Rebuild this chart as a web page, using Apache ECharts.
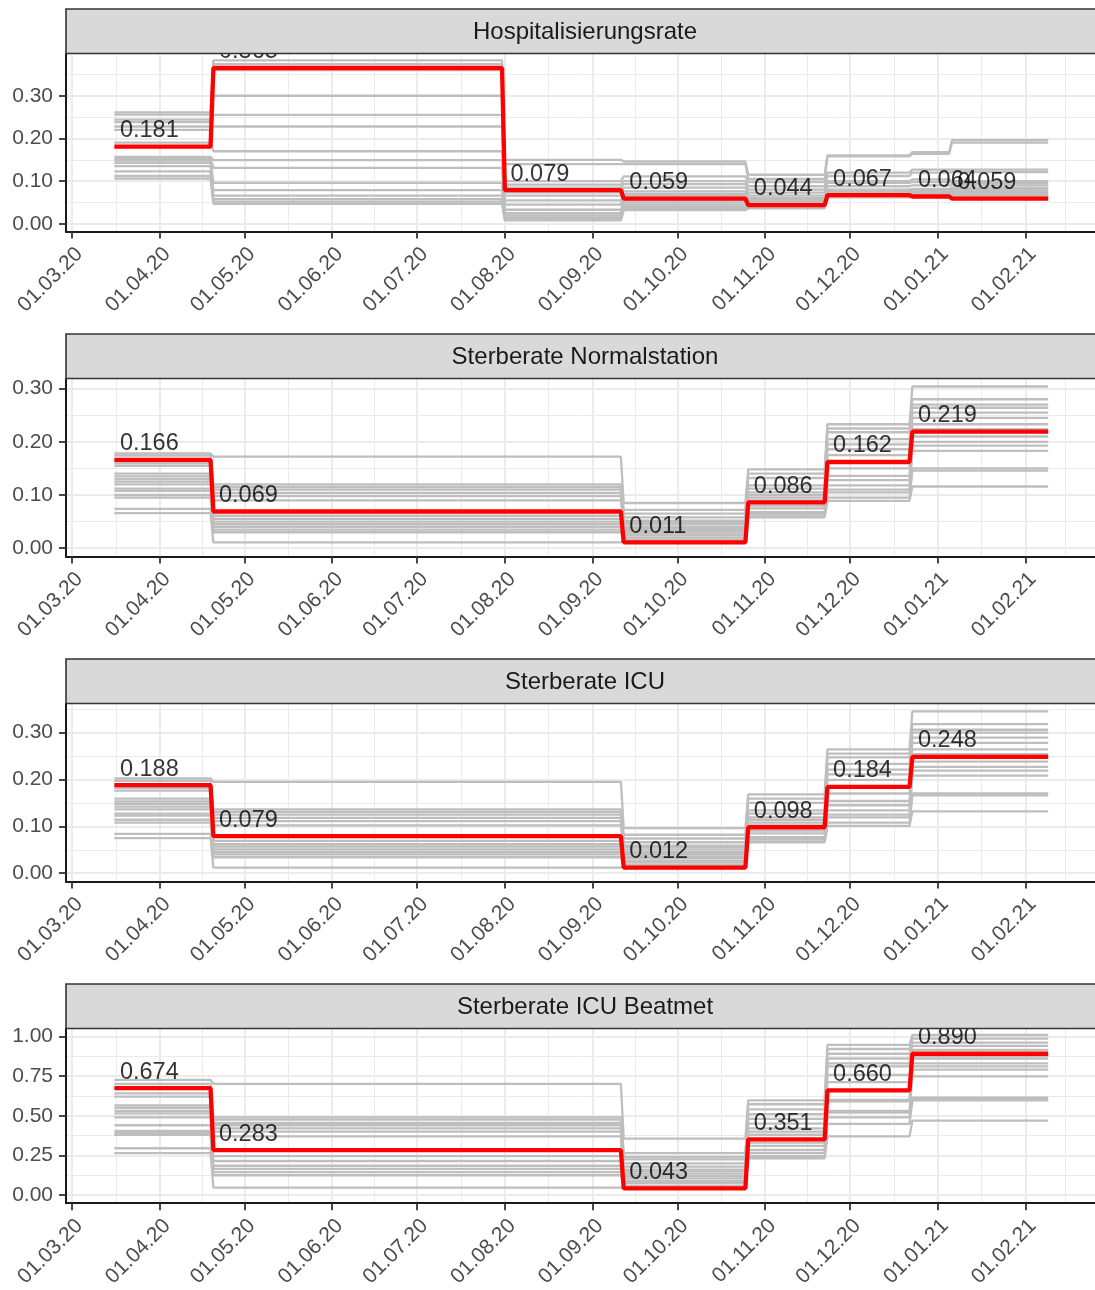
<!DOCTYPE html>
<html>
<head>
<meta charset="utf-8">
<script src="https://cdn.jsdelivr.net/npm/echarts@6.0.0/dist/echarts.min.js"></script>
<style>
html,body{margin:0;padding:0;background:#ffffff;}
#chart{width:1095px;height:1290px;}
</style>
</head>
<body>
<div id="chart"></div>
<script>
// ---------------- data ----------------
const facetTitles = ['Hospitalisierungsrate', 'Sterberate Normalstation', 'Sterberate ICU', 'Sterberate ICU Beatmet'];

// first day of each constant period
const startsHosp  = ['2020-03-16', '2020-04-20', '2020-08-01', '2020-09-12', '2020-10-26', '2020-11-23', '2020-12-23', '2021-01-06'];
const startsDeath = ['2020-03-16', '2020-04-20', '2020-09-12', '2020-10-26', '2020-11-23', '2020-12-23'];
const lastDate = '2021-02-09';

// highlighted (red) estimate per period
const redHosp   = [0.181, 0.365, 0.079, 0.059, 0.044, 0.067, 0.064, 0.059];
const redNormal = [0.166, 0.069, 0.011, 0.086, 0.162, 0.219];
const redICU    = [0.188, 0.079, 0.012, 0.098, 0.184, 0.248];
const redVent   = [0.674, 0.283, 0.043, 0.351, 0.660, 0.890];

// grey ensemble: one list per period, one entry per grey line
const grayHosp = [
  [0.261, 0.256, 0.244, 0.238, 0.228, 0.220, 0.190, 0.157, 0.152, 0.148, 0.143, 0.135, 0.123, 0.112, 0.106],
  [0.383, 0.374, 0.360, 0.300, 0.255, 0.228, 0.170, 0.149, 0.131, 0.096, 0.079, 0.066, 0.058, 0.052, 0.047],
  [0.150, 0.140, 0.100, 0.092, 0.085, 0.074, 0.066, 0.055, 0.045, 0.033, 0.025, 0.020, 0.015, 0.011, 0.008],
  [0.146, 0.140, 0.111, 0.100, 0.093, 0.085, 0.076, 0.070, 0.065, 0.055, 0.050, 0.045, 0.040, 0.035, 0.032],
  [0.115, 0.105, 0.098, 0.088, 0.080, 0.073, 0.066, 0.060, 0.056, 0.052, 0.048, 0.046, 0.044, 0.040, 0.036],
  [0.160, 0.158, 0.120, 0.112, 0.100, 0.096, 0.088, 0.080, 0.076, 0.072, 0.070, 0.068, 0.066, 0.064, 0.062],
  [0.168, 0.164, 0.127, 0.120, 0.104, 0.098, 0.090, 0.082, 0.078, 0.074, 0.072, 0.070, 0.068, 0.066, 0.064],
  [0.196, 0.190, 0.127, 0.121, 0.100, 0.095, 0.090, 0.084, 0.080, 0.076, 0.072, 0.068, 0.065, 0.062, 0.060]
];
const grayNormal = [
  [0.178, 0.174, 0.160, 0.155, 0.140, 0.135, 0.130, 0.125, 0.120, 0.112, 0.108, 0.100, 0.095, 0.074, 0.066],
  [0.172, 0.120, 0.115, 0.110, 0.104, 0.098, 0.090, 0.061, 0.055, 0.050, 0.045, 0.040, 0.035, 0.030, 0.011],
  [0.085, 0.072, 0.065, 0.058, 0.052, 0.049, 0.045, 0.040, 0.036, 0.032, 0.028, 0.024, 0.020, 0.016, 0.013],
  [0.148, 0.140, 0.132, 0.118, 0.112, 0.105, 0.100, 0.095, 0.090, 0.080, 0.075, 0.068, 0.064, 0.060, 0.058],
  [0.233, 0.225, 0.218, 0.205, 0.195, 0.186, 0.175, 0.150, 0.136, 0.128, 0.118, 0.110, 0.105, 0.095, 0.089],
  [0.304, 0.280, 0.270, 0.264, 0.255, 0.245, 0.233, 0.224, 0.210, 0.200, 0.193, 0.183, 0.150, 0.146, 0.116]
];
const grayICU = [
  [0.202, 0.197, 0.182, 0.176, 0.159, 0.153, 0.148, 0.142, 0.136, 0.127, 0.123, 0.114, 0.108, 0.084, 0.075],
  [0.195, 0.136, 0.131, 0.125, 0.118, 0.111, 0.102, 0.069, 0.062, 0.057, 0.051, 0.045, 0.040, 0.034, 0.012],
  [0.096, 0.082, 0.074, 0.066, 0.059, 0.056, 0.051, 0.045, 0.041, 0.036, 0.032, 0.027, 0.023, 0.018, 0.015],
  [0.168, 0.159, 0.150, 0.134, 0.127, 0.119, 0.114, 0.108, 0.102, 0.091, 0.085, 0.077, 0.073, 0.068, 0.066],
  [0.264, 0.255, 0.247, 0.233, 0.221, 0.211, 0.199, 0.170, 0.154, 0.145, 0.134, 0.125, 0.119, 0.108, 0.101],
  [0.345, 0.318, 0.306, 0.300, 0.289, 0.278, 0.264, 0.254, 0.238, 0.227, 0.219, 0.208, 0.170, 0.166, 0.132]
];
const grayVent = [
  [0.726, 0.700, 0.640, 0.620, 0.565, 0.550, 0.530, 0.515, 0.490, 0.440, 0.405, 0.390, 0.380, 0.295, 0.265],
  [0.700, 0.490, 0.475, 0.455, 0.440, 0.420, 0.400, 0.370, 0.245, 0.215, 0.185, 0.165, 0.145, 0.125, 0.047],
  [0.356, 0.265, 0.240, 0.225, 0.200, 0.180, 0.160, 0.150, 0.135, 0.120, 0.105, 0.090, 0.078, 0.060, 0.047],
  [0.597, 0.572, 0.540, 0.510, 0.480, 0.450, 0.420, 0.400, 0.380, 0.330, 0.310, 0.284, 0.265, 0.245, 0.232],
  [0.946, 0.920, 0.890, 0.860, 0.830, 0.810, 0.757, 0.712, 0.600, 0.590, 0.530, 0.520, 0.490, 0.449, 0.370],
  [1.008, 0.985, 0.960, 0.940, 0.915, 0.875, 0.860, 0.830, 0.810, 0.790, 0.747, 0.613, 0.600, 0.597, 0.469]
];

// axis ticks
const xMajorTicks = ['2020-03-01', '2020-04-01', '2020-05-01', '2020-06-01', '2020-07-01', '2020-08-01',
                     '2020-09-01', '2020-10-01', '2020-11-01', '2020-12-01', '2021-01-01', '2021-02-01'];
const xMinorTicks = ['2020-03-16T12:00:00Z', '2020-04-16T00:00:00Z', '2020-05-16T12:00:00Z', '2020-06-16T00:00:00Z',
                     '2020-07-16T12:00:00Z', '2020-08-16T12:00:00Z', '2020-09-16T00:00:00Z', '2020-10-16T12:00:00Z',
                     '2020-11-16T00:00:00Z', '2020-12-16T12:00:00Z', '2021-01-16T12:00:00Z', '2021-02-15T00:00:00Z'];
const xRange = ['2020-02-27T22:00:00Z', '2021-02-25T13:00:00Z'];
const yTicksRate = [0, 0.1, 0.2, 0.3];
const yMinorRate = [0.05, 0.15, 0.25, 0.35];
const yTicksVent = [0, 0.25, 0.5, 0.75, 1.0];
const yMinorVent = [0.125, 0.375, 0.625, 0.875];
const yRanges = [[-0.018, 0.399], [-0.0156, 0.319], [-0.0177, 0.362], [-0.051, 1.049]];

// ---------------- build ----------------
const FONT = '"Liberation Sans", Arial, Helvetica, sans-serif';
const DAY = 86400000;
const ts = s => Date.parse(s.length === 10 ? s + 'T00:00:00Z' : s);
const pad = n => (n < 10 ? '0' : '') + n;
const fmtDate = v => { const d = new Date(v); return pad(d.getUTCDate()) + '.' + pad(d.getUTCMonth() + 1) + '.' + String(d.getUTCFullYear()).slice(2); };

const panels = [
  { title: facetTitles[0], starts: startsHosp,  red: redHosp,   gray: grayHosp,   yt: yTicksRate, ym: yMinorRate },
  { title: facetTitles[1], starts: startsDeath, red: redNormal, gray: grayNormal, yt: yTicksRate, ym: yMinorRate },
  { title: facetTitles[2], starts: startsDeath, red: redICU,    gray: grayICU,    yt: yTicksRate, ym: yMinorRate },
  { title: facetTitles[3], starts: startsDeath, red: redVent,   gray: grayVent,   yt: yTicksVent, ym: yMinorVent }
];

function stepPoints(starts, vals) {
  const pts = [];
  for (let k = 0; k < vals.length; k++) {
    const s = ts(starts[k]);
    const e = k + 1 < starts.length ? ts(starts[k + 1]) - DAY : ts(lastDate);
    pts.push([s, vals[k]], [e, vals[k]]);
  }
  return pts;
}

const L = 66, W = 1038, TOP0 = 53.5, STEP = 325, H = 178;
const grids = [], xAxes = [], yAxes = [], series = [], graphics = [];
const majorX = xMajorTicks.map(ts), minorX = xMinorTicks.map(ts);

panels.forEach((p, i) => {
  const top = TOP0 + STEP * i;
  grids.push({ left: L, top: top, width: W, height: H, containLabel: false });
  // major x axis (dates as ms on a linear scale)
  xAxes.push({
    type: 'value', gridIndex: i, min: ts(xRange[0]), max: ts(xRange[1]),
    axisLine: { show: true, onZero: false, lineStyle: { color: '#1a1a1a', width: 2 } },
    axisTick: { show: true, inside: false, length: 7, customValues: majorX, lineStyle: { color: '#333333', width: 1.8 } },
    axisLabel: { show: true, customValues: majorX, rotate: 45, margin: 12, fontSize: 21, color: '#4d4d4d',
                 fontFamily: FONT, formatter: v => fmtDate(v), align: 'right', verticalAlign: 'top',
                 overflow: 'none', hideOverlap: false },
    splitLine: { show: true, lineStyle: { color: '#ebebeb', width: 1.9 } }
  });
  // minor x grid
  xAxes.push({
    type: 'value', gridIndex: i, min: ts(xRange[0]), max: ts(xRange[1]),
    axisLine: { show: false }, axisLabel: { show: false, customValues: minorX },
    axisTick: { show: false, customValues: minorX },
    splitLine: { show: true, lineStyle: { color: '#ebebeb', width: 1.0 } }
  });
  // major y axis
  yAxes.push({
    type: 'value', gridIndex: i, min: yRanges[i][0], max: yRanges[i][1],
    axisLine: { show: true, onZero: false, lineStyle: { color: '#1a1a1a', width: 2 } },
    axisTick: { show: true, inside: false, length: 7, customValues: p.yt, lineStyle: { color: '#333333', width: 1.8 } },
    axisLabel: { show: true, customValues: p.yt, margin: 13, fontSize: 21, color: '#4d4d4d', fontFamily: FONT,
                 formatter: v => v.toFixed(2) },
    splitLine: { show: true, lineStyle: { color: '#ebebeb', width: 1.9 } }
  });
  // minor y grid
  yAxes.push({
    type: 'value', gridIndex: i, min: yRanges[i][0], max: yRanges[i][1],
    axisLine: { show: false }, axisLabel: { show: false, customValues: p.ym },
    axisTick: { show: false, customValues: p.ym },
    splitLine: { show: true, lineStyle: { color: '#ebebeb', width: 1.0 } }
  });

  const nGray = p.gray[0].length;
  for (let g = 0; g < nGray; g++) {
    series.push({
      type: 'line', xAxisIndex: 2 * i, yAxisIndex: 2 * i, showSymbol: false, symbol: 'none',
      data: stepPoints(p.starts, p.gray.map(per => per[g])),
      lineStyle: { color: '#bebebe', width: 2.3 }, z: 2, silent: true
    });
  }
  series.push({
    type: 'line', xAxisIndex: 2 * i, yAxisIndex: 2 * i, showSymbol: false, symbol: 'none',
    data: stepPoints(p.starts, p.red),
    lineStyle: { color: '#ff0000', width: 4.3 }, z: 3, silent: true
  });
  series.push({
    type: 'scatter', xAxisIndex: 2 * i, yAxisIndex: 2 * i, symbolSize: 0.1, silent: true, z: 4,
    itemStyle: { color: 'rgba(0,0,0,0)' },
    data: p.red.map((v, k) => [ts(p.starts[k]) + 2 * DAY, v]),
    label: { show: true, position: [0, -16], align: 'left', verticalAlign: 'middle',
             fontSize: 23.5, color: '#000000', fontFamily: FONT,
             formatter: q => q.value[1].toFixed(3) }
  });

  // facet strip
  graphics.push({
    type: 'rect', z: 100, silent: true,
    shape: { x: L, y: top - 44.5, width: W, height: 44.5 },
    style: { fill: '#d9d9d9', stroke: '#333333', lineWidth: 1.6 }
  });
  graphics.push({
    type: 'text', z: 101, silent: true, x: L + W / 2, y: top - 21.5,
    style: { text: p.title, fill: '#1a1a1a', fontSize: 24, fontFamily: FONT, align: 'center', verticalAlign: 'middle' }
  });
});

const chart = echarts.init(document.getElementById('chart'), null, { renderer: 'canvas' });
chart.setOption({
  animation: false,
  backgroundColor: '#ffffff',
  grid: grids,
  xAxis: xAxes,
  yAxis: yAxes,
  series: series,
  graphic: graphics
});
</script>
</body>
</html>
